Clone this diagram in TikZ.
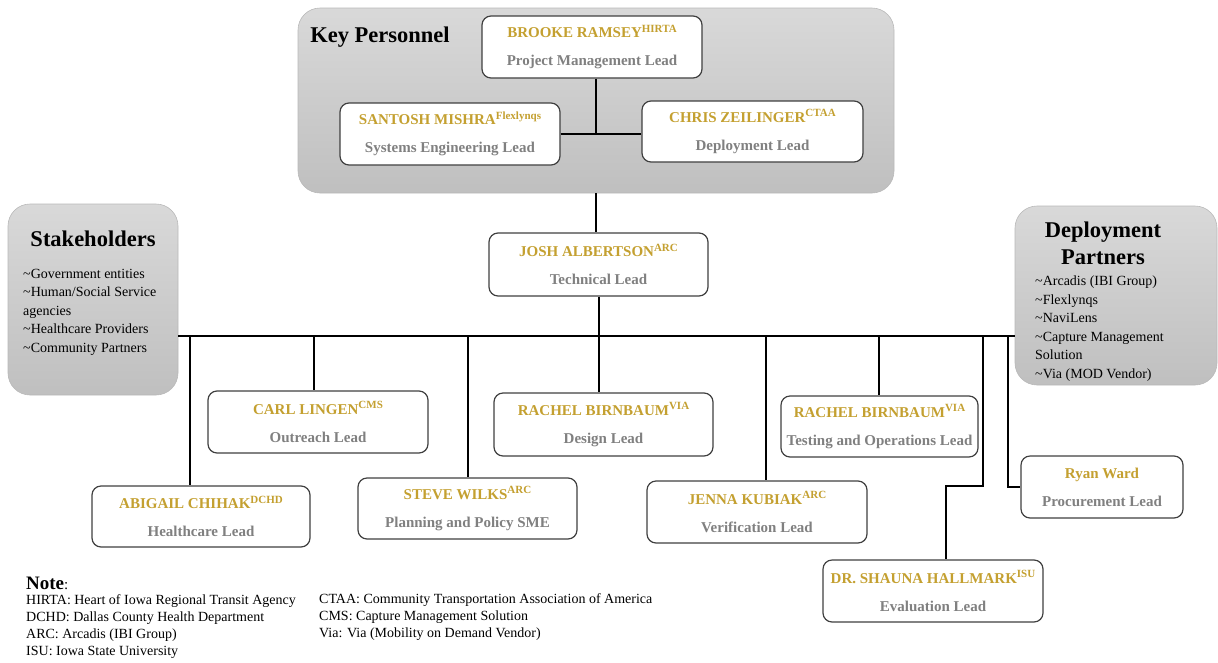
\documentclass[tikz,border=0pt]{standalone}
\usepackage{fontspec}
\setmainfont{Liberation Serif}
\definecolor{namegold}{RGB}{196,160,48}
\definecolor{rolegray}{RGB}{128,128,128}
\definecolor{boxline}{RGB}{64,64,64}
\newcommand\pname[2]{\textcolor{namegold}{#1\raisebox{5.5pt}{\fontsize{11}{11}\selectfont #2}}}
\newcommand\prole[1]{\textcolor{rolegray}{#1}}
\tikzset{
  person/.style={draw=boxline, line width=1.2pt, rounded corners=9pt, fill=white,
    align=center, inner sep=0pt, font=\fontsize{15}{28}\selectfont\bfseries},
  group/.style={rounded corners=22pt, top color=gray!30, bottom color=gray!50,
    draw=gray!55, line width=0.6pt, inner sep=0pt},
  link/.style={line width=1.8pt, black},
  grouptitle/.style={font=\fontsize{22.5}{27}\selectfont\bfseries, align=center, inner sep=0pt},
  listtxt/.style={font=\fontsize{14}{18.5}\selectfont, align=left, inner sep=0pt, anchor=north west},
  notetxt/.style={font=\fontsize{14}{17}\selectfont, align=left, inner sep=0pt, anchor=north west},
}
\begin{document}
\begin{tikzpicture}[x=1pt, y=-1pt]
\useasboundingbox (0,0) rectangle (1218,662);

% group backgrounds
\node[group, minimum width=596pt, minimum height=185pt] (kp) at (596,100.5) {};
\node[group, minimum width=170pt, minimum height=191pt] (stake) at (93,299.5) {};
\node[group, minimum width=202pt, minimum height=179pt] (deploy) at (1116,295.5) {};

\node[grouptitle] (kptitle) at (380,37) {Key Personnel};
\node[grouptitle] (staketitle) at (93,239) {Stakeholders};
\node[grouptitle] (deploytitle) at (1103,243.5) {Deployment\\Partners};

\node[listtxt] (stakelist) at (23,269) {\textasciitilde Government entities\\\textasciitilde Human/Social Service\\agencies\\\textasciitilde Healthcare Providers\\\textasciitilde Community Partners};
\node[listtxt] (deploylist) at (1035,276) {\textasciitilde Arcadis (IBI Group)\\\textasciitilde Flexlynqs\\\textasciitilde NaviLens\\\textasciitilde Capture Management\\Solution\\\textasciitilde Via (MOD Vendor)};

% people
\node[person, minimum width=220pt, minimum height=62pt] (brooke) at (592,47) {\pname{BROOKE RAMSEY}{HIRTA}\\\prole{Project Management Lead}};
\node[person, minimum width=220pt, minimum height=62pt] (santosh) at (450,134) {\pname{SANTOSH MISHRA}{Flexlynqs}\\\prole{Systems Engineering Lead}};
\node[person, minimum width=221pt, minimum height=61pt] (chris) at (752.5,131.5) {\pname{CHRIS ZEILINGER}{CTAA}\\\prole{Deployment Lead}};
\node[person, minimum width=219pt, minimum height=63pt] (josh) at (598.5,264.5) {\pname{JOSH ALBERTSON}{ARC}\\\prole{Technical Lead}};
\node[person, minimum width=220pt, minimum height=62pt] (carl) at (318,422) {\pname{CARL LINGEN}{CMS}\\\prole{Outreach Lead}};
\node[person, minimum width=219pt, minimum height=63pt] (design) at (603.5,424.5) {\pname{RACHEL BIRNBAUM}{VIA}\\\prole{Design Lead}};
\node[person, minimum width=197pt, minimum height=61pt] (testing) at (879.5,426.5) {\pname{RACHEL BIRNBAUM}{VIA}\\\prole{Testing and Operations Lead}};
\node[person, minimum width=218pt, minimum height=61pt] (abigail) at (201,516.5) {\pname{ABIGAIL CHIHAK}{DCHD}\\\prole{Healthcare Lead}};
\node[person, minimum width=219pt, minimum height=61pt] (steve) at (467.5,508.5) {\pname{STEVE WILKS}{ARC}\\\prole{Planning and Policy SME}};
\node[person, minimum width=220pt, minimum height=62pt] (jenna) at (757,512) {\pname{JENNA KUBIAK}{ARC}\\\prole{Verification Lead}};
\node[person, minimum width=162pt, minimum height=62pt] (ryan) at (1102,487) {\pname{Ryan Ward}{}\\\prole{Procurement Lead}};
\node[person, minimum width=220pt, minimum height=62pt] (hallmark) at (933,591) {\pname{DR. SHAUNA HALLMARK}{ISU}\\\prole{Evaluation Lead}};

% connectors
\coordinate (spine) at (596,134);
\draw[link] (brooke.south -| spine) -- (spine);
\draw[link] (santosh.east |- spine) -- (chris.west |- spine);
\draw[link] (kp.south -| spine) -- (josh.north -| spine);
\coordinate (bus) at (599,336);
\draw[link] (josh.south -| bus) -- (bus);
\draw[link] (stake.east |- bus) -- (deploy.west |- bus);
\draw[link] (bus) -- (bus |- design.north);
\coordinate (d1) at (190,336);
\draw[link] (d1) -- (d1 |- abigail.north);
\coordinate (d2) at (314,336);
\draw[link] (d2) -- (d2 |- carl.north);
\coordinate (d3) at (468,336);
\draw[link] (d3) -- (d3 |- steve.north);
\coordinate (d4) at (766,336);
\draw[link] (d4) -- (d4 |- jenna.north);
\coordinate (d5) at (879,336);
\draw[link] (d5) -- (d5 |- testing.north);
\coordinate (d6) at (983,336);
\coordinate (k6) at (946,486);
\draw[link] (d6) -- (d6 |- k6) -- (k6) -- (k6 |- hallmark.north);
\coordinate (d7) at (1008,336);
\draw[link] (d7) -- (d7 |- ryan.west) -- (ryan.west);

% notes
\node[anchor=west, inner sep=0pt, font=\fontsize{19}{22}\selectfont] (note) at (26,583) {\textbf{Note}\fontsize{15}{15}\selectfont:};
\node[notetxt] (notesleft) at (26,594) {HIRTA: Heart of Iowa Regional Transit Agency\\DCHD: Dallas County Health Department\\ARC: Arcadis (IBI Group)\\ISU: Iowa State University};
\node[notetxt] (notesright) at (319,593) {CTAA: Community Transportation Association of America\\CMS: Capture Management Solution\\Via: Via (Mobility on Demand Vendor)};
\end{tikzpicture}
\end{document}
